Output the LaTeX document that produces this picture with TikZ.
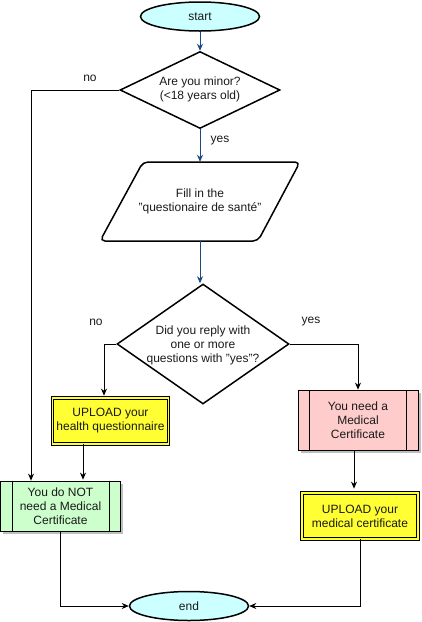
\documentclass[tikz,border=0pt]{standalone}
\usepackage{fontspec}
\setmainfont{Liberation Sans}
\usetikzlibrary{shapes.geometric, arrows.meta, shadows, calc}
\definecolor{cyanfill}{HTML}{CCFFFF}
\definecolor{arrblue}{HTML}{1A4A80}
\definecolor{yelfill}{HTML}{FFFF33}
\definecolor{pinkfill}{HTML}{FFCCCC}
\definecolor{greenfill}{HTML}{CCFFCC}
\definecolor{txtcol}{HTML}{1A1A1A}
\begin{document}
\begin{tikzpicture}[x=1pt,y=-1pt, font=\fontsize{12}{14}\selectfont, text=txtcol,
 terminal/.style={ellipse, draw, line width=1.5pt, fill=cyanfill, minimum width=119pt, minimum height=29pt, inner sep=0pt},
 decision/.style={diamond, draw, line width=1.5pt, inner sep=0pt},
 txt/.style={align=center, inner sep=0pt},
 upload/.style={rectangle, draw, line width=0.8pt, double=yelfill, double distance=1.6pt, fill=yelfill, minimum width=116pt, minimum height=46pt, align=center, inner sep=0pt},
 subproc/.style={rectangle, draw, line width=0.8pt, minimum width=120pt, align=center, inner sep=0pt, drop shadow={shadow xshift=2.5pt, shadow yshift=-2.5pt, fill=black, opacity=0.25}},
 arr/.style={-{Stealth[length=7pt,width=6pt]}, line width=0.8pt},
 barr/.style={arr, draw=arrblue}
]
\useasboundingbox (0,0) rectangle (421,622);

\node[terminal] (start) at (200,16.5) {start};
\node[decision, minimum width=160pt, minimum height=77pt] (d1) at (200,90) {};
\node[txt] (d1t) at (200,89.5) {Are you minor?\\(<18 years old)};

\draw[line width=1.5pt, rounded corners=5pt] (143,162) -- (300,162) -- (258,241) -- (100,241) -- cycle;
\node[txt, minimum width=120pt, minimum height=79pt] (fill) at (200,201.5) {Fill in the\\"questionaire de santé"};

\node[decision, minimum width=172pt, minimum height=120pt] (d2) at (203,344) {};
\node[txt] (d2t) at (203,345.5) {Did you reply with\\one or more\\questions with "yes"?};

\node[upload] (up1) at (110.5,421) {UPLOAD your\\health questionnaire};
\node[subproc, fill=pinkfill, minimum height=60pt] (need) at (358,420) {You need a\\Medical\\Certificate};
\draw[line width=0.8pt] ($(need.north west)+(12,0)$) -- ($(need.south west)+(12,0)$);
\draw[line width=0.8pt] ($(need.north east)+(-12,0)$) -- ($(need.south east)+(-12,0)$);

\node[subproc, fill=greenfill, minimum height=50pt] (noneed) at (60.5,506) {You do NOT\\need a Medical\\Certificate};
\draw[line width=0.8pt] ($(noneed.north west)+(12,0)$) -- ($(noneed.south west)+(12,0)$);
\draw[line width=0.8pt] ($(noneed.north east)+(-12,0)$) -- ($(noneed.south east)+(-12,0)$);

\node[upload] (up2) at (360,516) {UPLOAD your\\medical certificate};
\node[terminal] (end) at (189,606) {end};

\node[txt] (l1) at (90,78) {no};
\node[txt] (l2) at (220,141) {yes};
\node[txt] (l3) at (96,322) {no};
\node[txt] (l4) at (311,322) {yes};

\coordinate (c1) at (31,90);
\coordinate (c2) at (104,0);
\coordinate (c3) at (83,0);
\coordinate (c4) at (354,0);

\draw[barr] (start.south) -- (d1.north);
\draw[barr] (d1.south) -- (fill.north);
\draw[barr] (fill.south) -- (fill.south |- d2.north);
\draw[arr] (d1.west) -| (c1 |- noneed.north);
\draw[arr, shorten >=2pt] (d2.west) -| (c2 |- up1.north);
\draw[arr] (d2.east) -| (need.north);
\draw[arr, shorten >=1pt] (c3 |- up1.south) -- (c3 |- noneed.north);
\draw[arr, shorten >=4pt] (c4 |- need.south) -- (c4 |- up2.north);
\draw[arr] (noneed.south) |- (end.west);
\draw[arr] (up2.south) |- (end.east);
\end{tikzpicture}
\end{document}
